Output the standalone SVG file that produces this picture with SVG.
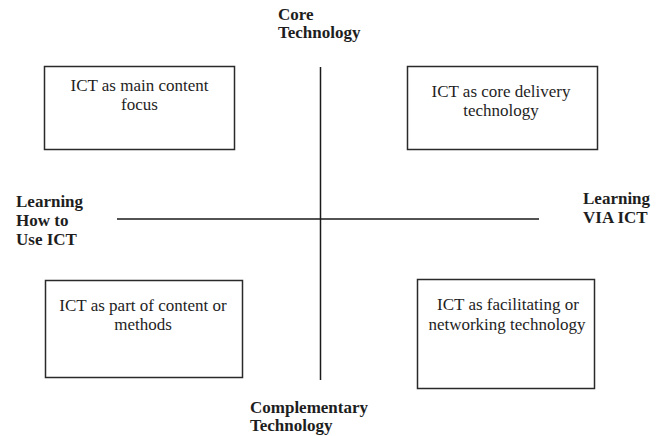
<svg xmlns="http://www.w3.org/2000/svg" width="661" height="436" viewBox="0 0 661 436">
  <style>
    .box { fill: #ffffff; stroke: #2a2a2a; stroke-width: 1.5; }
    .axis { stroke: #1a1a1a; stroke-width: 1.5; fill: none; }
    text { font-family: 'Liberation Serif', 'DejaVu Serif', serif; fill: #1e1e1e; }
    .body { font-size: 17px; text-anchor: middle; }
    .pole { font-size: 17px; font-weight: bold; }
  </style>
  <rect width="661" height="436" fill="#ffffff"/>

  <!-- axes -->
  <g id="connectors">
    <line class="axis" x1="320.5" y1="67" x2="320.5" y2="380"/>
    <line class="axis" x1="117" y1="219" x2="539" y2="219"/>
  </g>

  <!-- axis pole labels -->
  <g id="label-core">
    <text class="pole" x="278" y="20">Core</text>
    <text class="pole" x="278" y="38">Technology</text>
  </g>
  <g id="label-complementary">
    <text class="pole" x="250" y="413">Complementary</text>
    <text class="pole" x="250" y="431">Technology</text>
  </g>
  <g id="label-how-to">
    <text class="pole" x="16" y="207">Learning</text>
    <text class="pole" x="16" y="226">How to</text>
    <text class="pole" x="16" y="245">Use ICT</text>
  </g>
  <g id="label-via">
    <text class="pole" x="583" y="204">Learning</text>
    <text class="pole" x="583" y="223">VIA ICT</text>
  </g>

  <!-- quadrant boxes -->
  <g id="main-content">
    <rect class="box" x="44.5" y="66.5" width="190" height="83"/>
    <text class="body" x="139.5" y="91">ICT as main content</text>
    <text class="body" x="139.5" y="110">focus</text>
  </g>
  <g id="core-delivery">
    <rect class="box" x="407.5" y="66.5" width="190" height="83"/>
    <text class="body" x="501" y="97">ICT as core delivery</text>
    <text class="body" x="501" y="116">technology</text>
  </g>
  <g id="part-of-content">
    <rect class="box" x="45.5" y="280.5" width="197" height="97"/>
    <text class="body" x="143" y="311">ICT as part of content or</text>
    <text class="body" x="143" y="330">methods</text>
  </g>
  <g id="facilitating">
    <rect class="box" x="417.5" y="279.5" width="177" height="109"/>
    <text class="body" x="508" y="310">ICT as facilitating or</text>
    <text class="body" x="507" y="330">networking technology</text>
  </g>
</svg>
